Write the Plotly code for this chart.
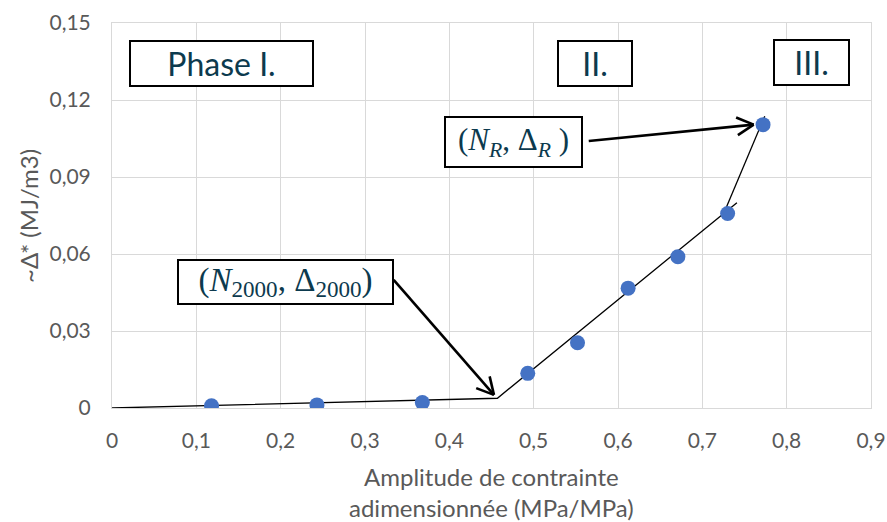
import math
import plotly.graph_objects as go

# ---- data ----
x_points = [0.118, 0.243, 0.368, 0.493, 0.552, 0.612, 0.671, 0.730, 0.772]
y_points = [0.0009, 0.0012, 0.0021, 0.0135, 0.0254, 0.0467, 0.0589, 0.0758, 0.1104]

# bilinear fit (phase I & II) and phase III segment
fit_x = [0.0, 0.457, 0.741]
fit_y = [0.0, 0.0038, 0.0800]
fit3_x = [0.728, 0.774]
fit3_y = [0.0778, 0.1137]

x_tickvals = [0, 0.1, 0.2, 0.3, 0.4, 0.5, 0.6, 0.7, 0.8, 0.9]
x_ticktext = ["0", "0,1", "0,2", "0,3", "0,4", "0,5", "0,6", "0,7", "0,8", "0,9"]
y_tickvals = [0, 0.03, 0.06, 0.09, 0.12, 0.15]
y_ticktext = ["0", "0,03", "0,06", "0,09", "0,12", "0,15"]

x_title = "Amplitude de contrainte<br>adimensionnée (MPa/MPa)"
y_title = "~Δ* (MJ/m3)"

phase_labels = ["Phase I.", "II.", "III."]
phase_x = [0.1294, 0.5724, 0.8297]
phase_y = [0.1341, 0.1341, 0.1348]
phase_w = [181, 72, 73]

pt_labels = ["(<i>N</i><sub>2000</sub>, Δ<sub>2000</sub>)", "(<i>N<sub>R</sub></i>, Δ<sub><i>R</i></sub> )"]
pt_x = [0.2055, 0.476]
pt_y = [0.0491, 0.1036]
pt_w = [213, 135]
pt_h = [42, 48]
pt_size = [33, 31]
arrow_tail = [(0.334, 0.0499), (0.5653, 0.1040)]
arrow_tip = [(0.4529, 0.0051), (0.7609, 0.1104)]

# ---- layout geometry (page body margin removed by post_script) ----
W, H = 887, 522
ML, MR, MT, MB = 112, 16, 23, 114
XR = [0, 0.9]
YR = [0, 0.15]
PW = W - ML - MR
PH = H - MT - MB

def to_px(x, y):
    return (x - XR[0]) / (XR[1] - XR[0]) * PW, (y - YR[0]) / (YR[1] - YR[0]) * PH

def to_data(px, py):
    return XR[0] + px / PW * (XR[1] - XR[0]), YR[0] + py / PH * (YR[1] - YR[0])

TEXT_DARK = "#0C3A4E"
TICK = "#595959"
FONT = "Lato"

fig = go.Figure()
fig.add_trace(go.Scatter(x=fit_x, y=fit_y, mode="lines",
                         line=dict(color="black", width=1.3), hoverinfo="skip"))
fig.add_trace(go.Scatter(x=fit3_x, y=fit3_y, mode="lines",
                         line=dict(color="black", width=1.3), hoverinfo="skip"))
fig.add_trace(go.Scatter(x=x_points, y=y_points, mode="markers",
                         marker=dict(color="#4472C4", size=15)))

shapes = []
for (tx, ty), (hx, hy) in zip(arrow_tail, arrow_tip):
    shapes.append(dict(type="line", xref="x", yref="y", x0=tx, y0=ty, x1=hx, y1=hy,
                       line=dict(color="black", width=2.6)))
    tpx, tpy = to_px(tx, ty)
    hpx, hpy = to_px(hx, hy)
    dx, dy = tpx - hpx, tpy - hpy
    n = math.hypot(dx, dy)
    dx, dy = dx / n, dy / n
    L = 19
    for ang in (math.radians(28), -math.radians(28)):
        rx = dx * math.cos(ang) - dy * math.sin(ang)
        ry = dx * math.sin(ang) + dy * math.cos(ang)
        ex, ey = to_data(hpx + L * rx, hpy + L * ry)
        shapes.append(dict(type="line", xref="x", yref="y", x0=hx, y0=hy, x1=ex, y1=ey,
                           line=dict(color="black", width=2.6)))

annotations = []
for t, x, y, w in zip(phase_labels, phase_x, phase_y, phase_w):
    annotations.append(dict(text=t, x=x, y=y, xref="x", yref="y", showarrow=False,
                            font=dict(family=FONT, size=32, color=TEXT_DARK),
                            bordercolor="black", borderwidth=2, borderpad=0,
                            bgcolor="white", width=w, height=43, align="center",
                            valign="middle"))
for t, x, y, w, h, s in zip(pt_labels, pt_x, pt_y, pt_w, pt_h, pt_size):
    annotations.append(dict(text=t, x=x, y=y, xref="x", yref="y", showarrow=False,
                            font=dict(family="Liberation Serif", size=s, color=TEXT_DARK),
                            bordercolor="black", borderwidth=2, borderpad=0,
                            bgcolor="white", width=w, height=h, align="center",
                            valign="middle"))

# axis titles
annotations.append(dict(text=x_title, xref="paper", yref="paper", x=0.5, y=-84.5 / PH,
                        xanchor="center", yanchor="middle", showarrow=False,
                        font=dict(family=FONT, size=24, color=TICK), align="center"))
annotations.append(dict(text=y_title, xref="paper", yref="paper", x=-84 / PW, y=0.4987,
                        xanchor="center", yanchor="middle", showarrow=False, textangle=-90,
                        font=dict(family=FONT, size=24, color=TICK)))

fig.update_layout(
    width=W, height=H,
    margin=dict(l=ML, r=MR, t=MT, b=MB, autoexpand=False),
    plot_bgcolor="white", paper_bgcolor="white",
    showlegend=False,
    font=dict(family=FONT, color=TICK),
    shapes=shapes,
    annotations=annotations,
    xaxis=dict(range=XR, tickvals=x_tickvals, ticktext=x_ticktext, automargin=False,
               showgrid=True, gridcolor="#D9D9D9", gridwidth=1,
               showline=True, linecolor="#D9D9D9", mirror=True, zeroline=False,
               ticks="", ticklabelstandoff=14, tickfont=dict(size=21, color=TICK)),
    yaxis=dict(range=YR, tickvals=y_tickvals, ticktext=y_ticktext, automargin=False,
               showgrid=True, gridcolor="#D9D9D9", gridwidth=1,
               showline=True, linecolor="#D9D9D9", mirror=True, zeroline=False,
               ticks="", ticklabelstandoff=16, tickfont=dict(size=21, color=TICK)),
)

fig.write_html("out.html", config={"displayModeBar": False},
               post_script="document.body.style.margin='0';document.body.style.overflow='hidden';")
